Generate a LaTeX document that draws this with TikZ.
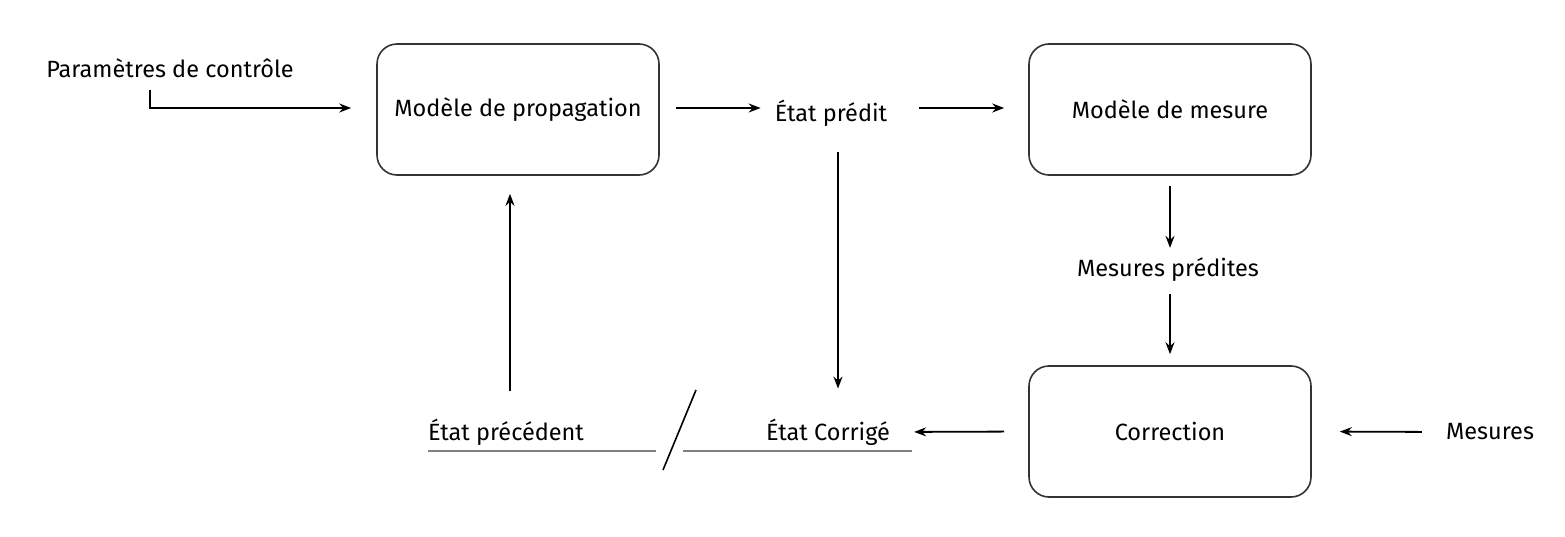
\documentclass[tikz,border=0pt]{standalone}
\usepackage{fontspec}
\setmainfont{Fira Sans}[Scale=1]
\usetikzlibrary{arrows.meta,calc}
\begin{document}
\begin{tikzpicture}[x=1pt,y=-1pt,
  box/.style={draw=black!80,line width=1.6pt,rounded corners=20pt,minimum width=282pt,minimum height=131pt,inner sep=0pt,font=\fontsize{23.5}{28}\selectfont},
  lbl/.style={inner sep=0pt,font=\fontsize{23.5}{28}\selectfont},
  arr/.style={line width=1.8pt,-{Stealth[length=12pt,width=9pt,inset=4pt]}},
  under/.style={draw=black!50,line width=1.6pt}]
\useasboundingbox (0,0) rectangle (1565,537);
\node[box] (prop) at (518,109.5) {Modèle de propagation};
\node[box] (mes) at (1170,109.5) {Modèle de mesure};
\node[box] (corr) at (1170,431.5) {Correction};
\node[lbl] (param) at (170,68) {Paramètres de contrôle};
\node[lbl] (etatp) at (831,113) {État prédit};
\node[lbl] (mesp) at (1168,270) {Mesures prédites};
\node[lbl] (mesu) at (1490,432) {Mesures};
\node[lbl] (etatc) at (828,432) {État Corrigé};
\node[lbl] (prec) at (506,432) {État précédent};
\coordinate (p1) at (150,90);
\coordinate (xc) at (838,0);
\coordinate (xp) at (510,0);
\coordinate (s1) at (696,390);
\coordinate (s2) at (663,470);
\coordinate (u1) at (428,451);
\coordinate (u2) at (656,451);
\coordinate (u3) at (683,451);
\coordinate (u4) at (912,451);
% connectors
\draw[arr] (p1) |- ([xshift=-25pt,yshift=1.5pt]prop.west);
\draw[arr,shorten <=16pt,shorten >=14pt] ([yshift=1.5pt]prop.east) -- ([yshift=1.5pt]prop.east -| etatp.west);
\draw[arr,shorten <=32pt,shorten >=24pt] ([yshift=1.5pt]mes.west -| etatp.east) -- ([yshift=1.5pt]mes.west);
\draw[arr,shorten <=10pt,shorten >=10pt] (mes.south) -- (mesp.north -| mes.south);
\draw[arr,shorten <=12pt,shorten >=11pt] (mesp.south -| corr.north) -- (corr.north);
\draw[arr,shorten <=24pt,shorten >=28pt] (mesu.west) -- (corr.east);
\draw[arr,shorten <=24pt,shorten >=24pt] (corr.west) -- (etatc.east);
\draw[arr,shorten <=26pt,shorten >=30pt] (etatp.south -| xc) -- (etatc.north -| xc);
\draw[arr,shorten <=28pt,shorten >=18pt] (prec.north -| xp) -- (prop.south -| xp);
% separator and underlines
\draw[line width=1.6pt] (s1) -- (s2);
\draw[under] (u1) -- (u2);
\draw[under] (u3) -- (u4);
\end{tikzpicture}
\end{document}
